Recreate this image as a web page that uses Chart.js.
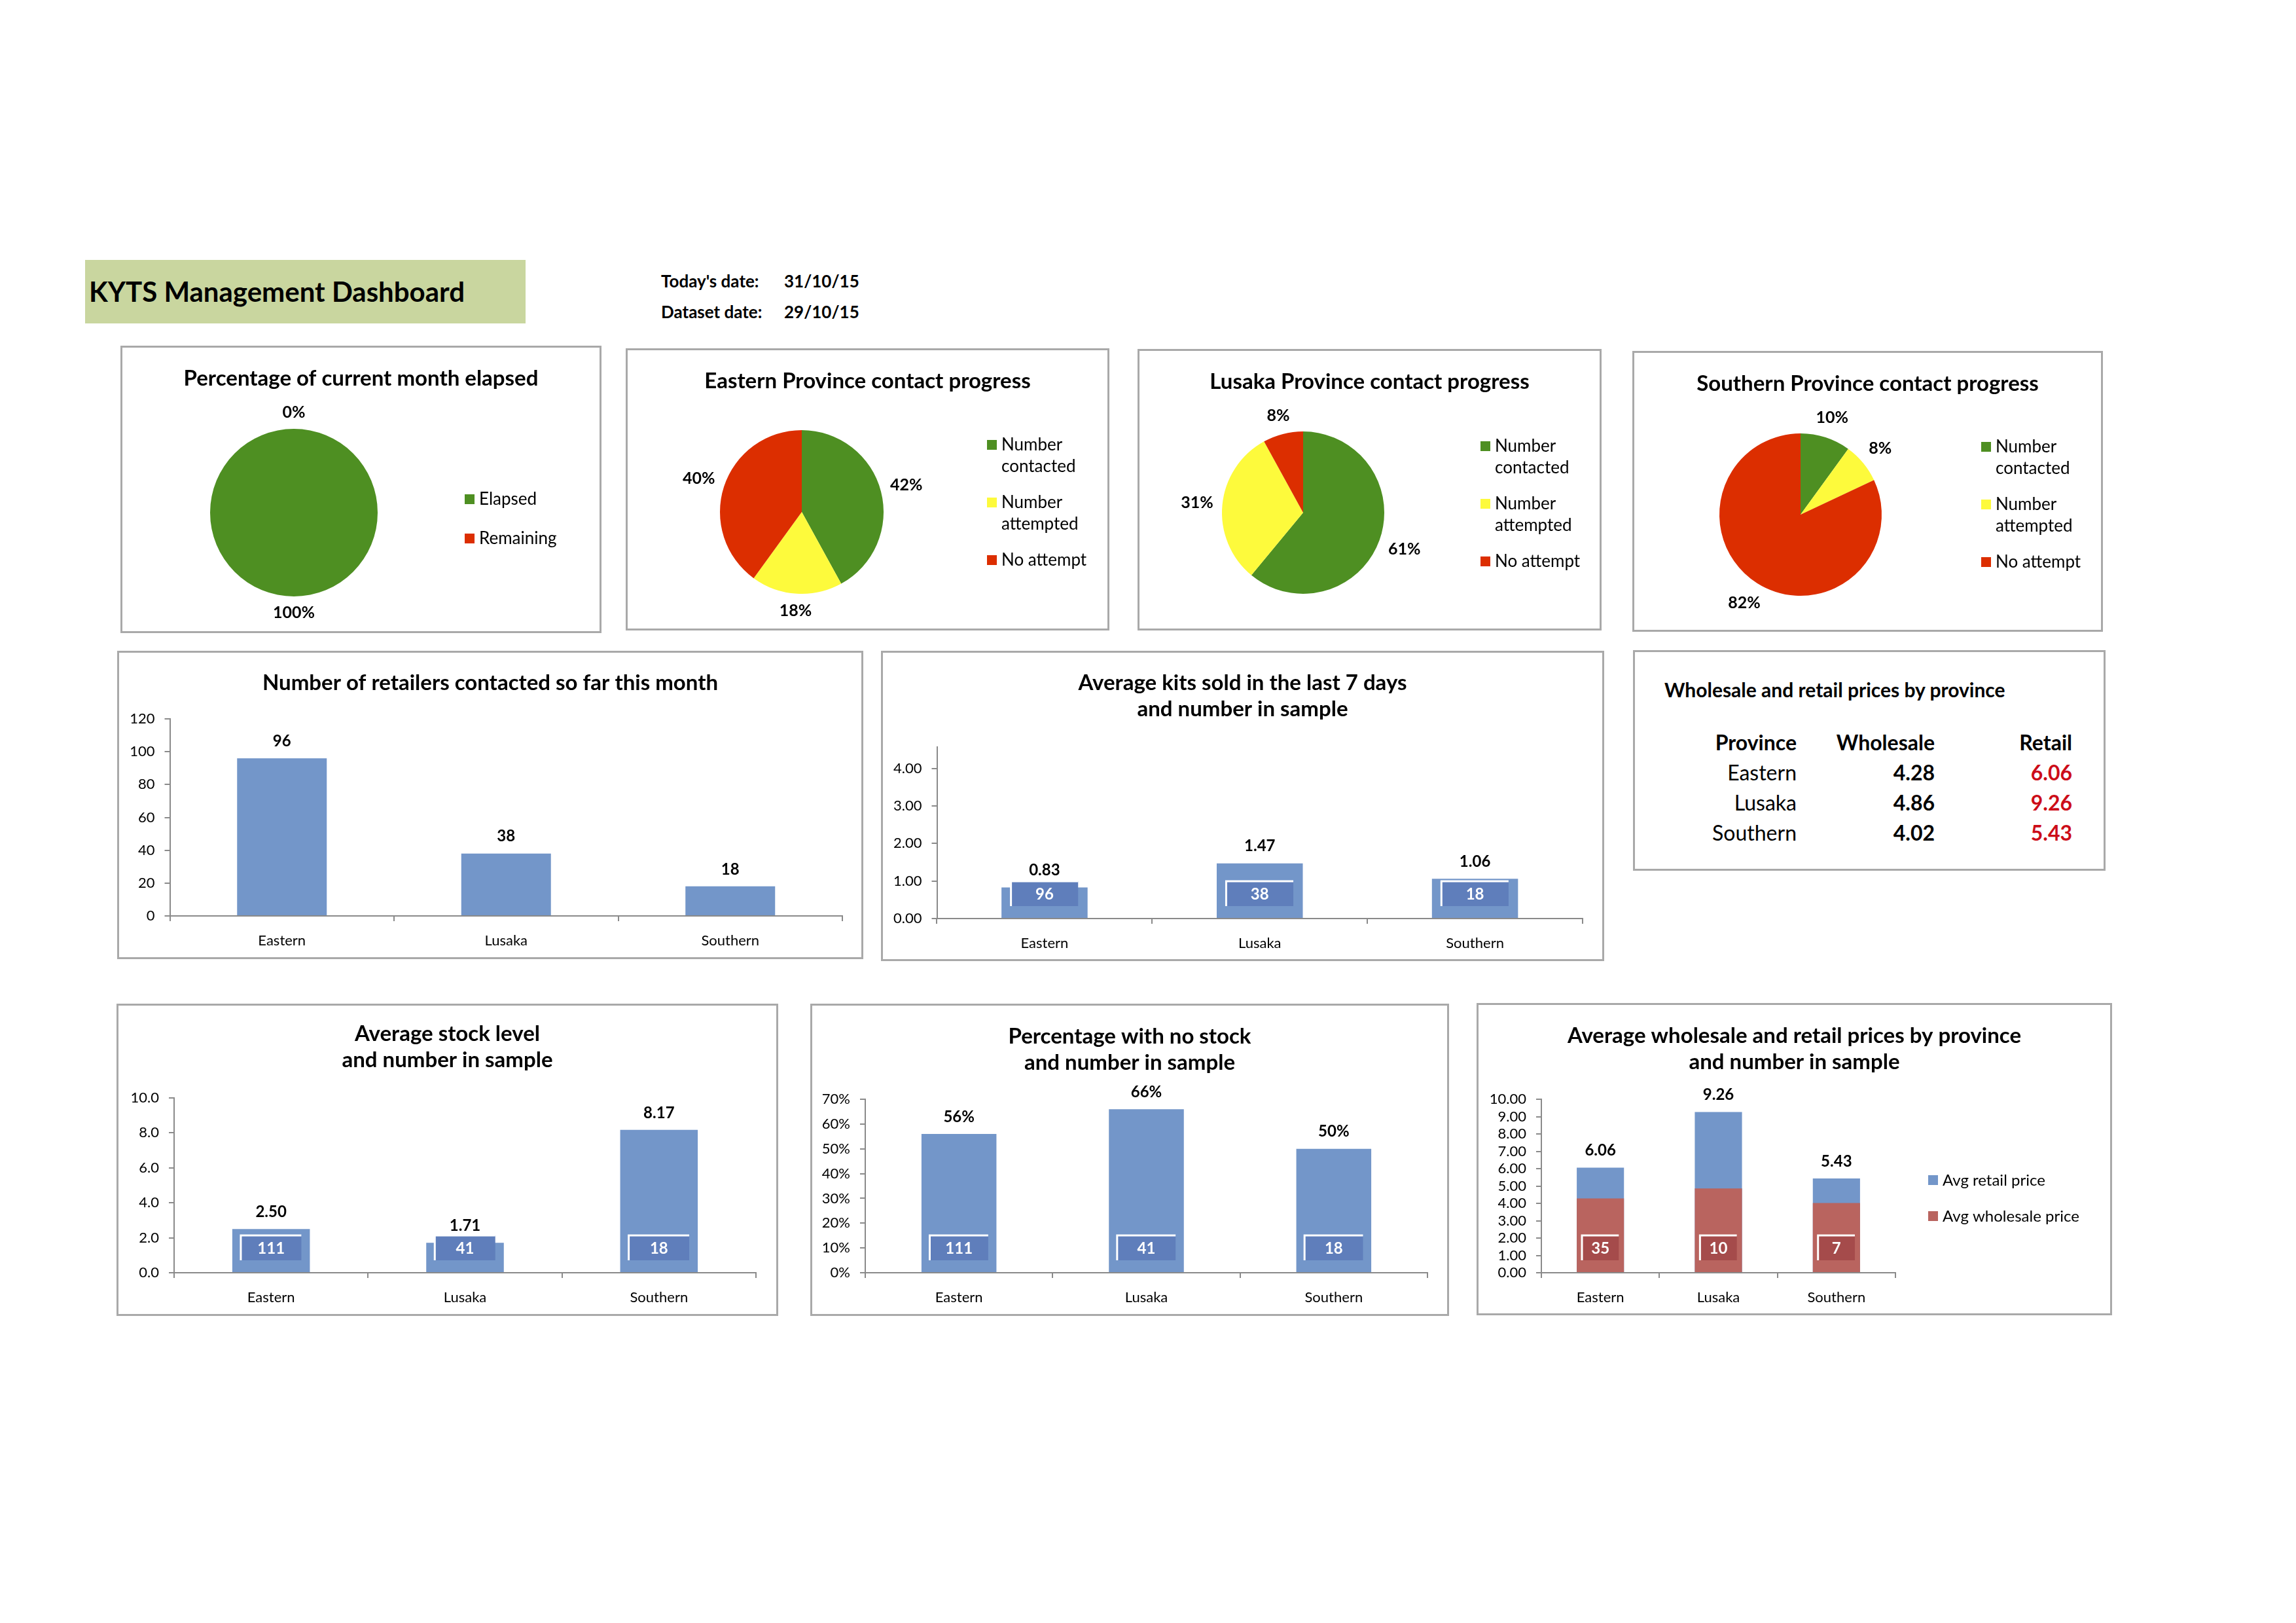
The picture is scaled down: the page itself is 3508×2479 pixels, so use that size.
<!DOCTYPE html>
<html>
<head>
<meta charset="utf-8">
<title>KYTS Management Dashboard</title>
<script src="https://cdn.jsdelivr.net/npm/chart.js@4.4.1/dist/chart.umd.min.js"></script>
<style>
    html, body { margin: 0; padding: 0; background: #fff; }
    body { width: 3508px; height: 2479px; position: relative; overflow: hidden;
        font-family: Lato, "Open Sans", sans-serif; color: #000; }
    .panel { position: absolute; box-sizing: border-box; border: 3px solid #a9a9a9; }
    canvas.chart { position: absolute; }
    .txt { position: absolute; white-space: nowrap; height: 40px; line-height: 40px; }
    #banner { position: absolute; left: 130px; top: 397px; width: 673px; height: 97px;
        background: #c9d69f; font-weight: bold; font-size: 42px; line-height: 97px;
        padding-left: 6px; box-sizing: border-box; }
</style>
</head>
<body>
<div id="banner">KYTS Management Dashboard</div>
<div class="txt" style="left:1010px;top:409px;font-size:26px;font-weight:bold;">Today's date:</div>
<div class="txt" style="left:1198px;top:409px;font-size:26px;font-weight:bold;">31/10/15</div>
<div class="txt" style="left:1010px;top:456px;font-size:26px;font-weight:bold;">Dataset date:</div>
<div class="txt" style="left:1198px;top:456px;font-size:26px;font-weight:bold;">29/10/15</div>

<script>
// dashboard data
const provinces = ["Eastern", "Lusaka", "Southern"];

const monthLabels = ["Elapsed", "Remaining"];
const monthShare = [100, 0];

const contactLabels = [["Number", "contacted"], ["Number", "attempted"], ["No attempt"]];
const easternContact = [42, 18, 40];
const lusakaContact = [61, 31, 8];
const southernContact = [10, 8, 82];

const retailersContacted = [96, 38, 18];

const kitsSold = [0.83, 1.47, 1.06];
const kitsSample = [96, 38, 18];

const stockLevel = [2.50, 1.71, 8.17];
const stockSample = [111, 41, 18];

const noStockPct = [56, 66, 50];
const noStockSample = [111, 41, 18];

const priceSeries = ["Avg retail price", "Avg wholesale price"];
const retailPrice = [6.06, 9.26, 5.43];
const wholesalePrice = [4.28, 4.86, 4.02];
const priceSample = [35, 10, 7];

const tableHeader = ["Province", "Wholesale", "Retail"];

(function () {
    "use strict";

    const FONT = "Lato, 'Open Sans', sans-serif";
    const GREEN = "#4e8f22";
    const YELLOW = "#fdfa3c";
    const RED = "#dc2e00";
    const BLUE = "#7396c9";
    const BLUE_BOX = "#5f7ebb";
    const BRICK = "#b9645f";
    const BRICK_BOX = "#a54b4b";
    const AXIS = "#8a8a8a";
    const PAD_L = 5;  // gap between frame and value-axis box
    const X_H = 60;   // fixed height of the category axis

    Chart.defaults.font.family = FONT;
    Chart.defaults.color = "#000";

    // ---- small drawing plugins ----
    const panelTitle = {
        id: "panelTitle",
        afterDraw(chart, args, opts) {
            if (!opts.lines) { return; }
            const ctx = chart.ctx;
            ctx.save();
            ctx.font = `bold 33px ${FONT}`;
            ctx.fillStyle = "#000";
            ctx.textAlign = "center";
            ctx.textBaseline = "middle";
            opts.lines.forEach((t, i) => ctx.fillText(t, chart.width / 2, opts.y + i * 40));
            ctx.restore();
        },
    };

    const sideLegend = {
        id: "sideLegend",
        afterDraw(chart, args, opts) {
            if (opts.x == null) { return; }
            const ctx = chart.ctx;
            const items = opts.mode === "datasets"
                ? chart.data.datasets.map(d => ({ text: d.label, color: d.backgroundColor }))
                : chart.data.labels.map((l, i) => ({ text: l, color: chart.data.datasets[0].backgroundColor[i] }));
            ctx.save();
            ctx.font = `${opts.size || 26}px ${FONT}`;
            ctx.textAlign = "left";
            ctx.textBaseline = "middle";
            let y = opts.y;
            items.forEach(it => {
                const lines = Array.isArray(it.text) ? it.text : [it.text];
                ctx.fillStyle = it.color;
                ctx.fillRect(opts.x, y - 8, 15, 15);
                ctx.fillStyle = "#000";
                lines.forEach((t, k) => ctx.fillText(t, opts.x + 22, y + k * 33));
                y += lines.length * 33 + opts.gap;
            });
            ctx.restore();
        },
    };

    // labels sit just outside the rim, box-fitted like Excel's outside-end labels
    const pieLabels = {
        id: "pieLabels",
        afterDatasetsDraw(chart) {
            const ctx = chart.ctx;
            const meta = chart.getDatasetMeta(0);
            const data = chart.data.datasets[0].data;
            ctx.save();
            ctx.font = `bold 25px ${FONT}`;
            ctx.fillStyle = "#000";
            ctx.textAlign = "center";
            ctx.textBaseline = "middle";
            meta.data.forEach((arc, i) => {
                const p = arc.getProps(["x", "y", "startAngle", "endAngle", "outerRadius"], true);
                const mid = (p.startAngle + p.endAngle) / 2;
                const text = `${data[i]}%`;
                const w = ctx.measureText(text).width, h = 24;
                const c = Math.cos(mid), s = Math.sin(mid);
                const d = p.outerRadius + 13 + Math.abs(c) * w / 2 + Math.abs(s) * h / 2;
                ctx.fillText(text, p.x + c * d, p.y + s * d);
            });
            ctx.restore();
        },
    };

    const barLabels = {
        id: "barLabels",
        afterDatasetsDraw(chart) {
            const ctx = chart.ctx;
            ctx.save();
            ctx.textAlign = "center";
            ctx.textBaseline = "middle";
            chart.data.datasets.forEach((ds, di) => {
                const meta = chart.getDatasetMeta(di);
                meta.data.forEach((bar, i) => {
                    const p = bar.getProps(["x", "y", "base", "width"], true);
                    if (ds.sample) {
                        const w = p.width * 0.78, h = 38, top = p.base - 56, left = p.x - w / 2;
                        ctx.fillStyle = ds.sampleFill;
                        ctx.fillRect(left, top, w, h);
                        ctx.strokeStyle = "#fff";
                        ctx.lineWidth = 3;
                        ctx.beginPath();
                        ctx.moveTo(left, top + h);
                        ctx.lineTo(left, top);
                        ctx.lineTo(left + w, top);
                        ctx.stroke();
                        ctx.font = `bold 24px ${FONT}`;
                        ctx.fillStyle = "#fff";
                        ctx.fillText(String(ds.sample[i]), p.x, top + h / 2 + 1);
                    }
                    if (ds.valueLabel) {
                        const v = ds.data[i];
                        const text = ds.valueLabel === "pct" ? `${v}%` : v.toFixed(ds.decimals || 0);
                        ctx.font = `bold 24px ${FONT}`;
                        ctx.fillStyle = "#000";
                        ctx.fillText(text, p.x, p.y - 26);
                    }
                });
            });
            ctx.restore();
        },
    };

    function makeCanvas(box) {
        const w = box.R - box.L, h = box.B - box.T;
        const frame = document.createElement("div");
        frame.className = "panel";
        Object.assign(frame.style, { left: `${box.L}px`, top: `${box.T}px`, width: `${w}px`, height: `${h}px` });
        document.body.appendChild(frame);
        const c = document.createElement("canvas");
        c.className = "chart";
        c.width = w; c.height = h;
        Object.assign(c.style, { left: `${box.L}px`, top: `${box.T}px`, width: `${w}px`, height: `${h}px` });
        document.body.appendChild(c);
        return c.getContext("2d");
    }

    function renderPie(box, pie, title, values, labels, colors, legend) {
        const ctx = makeCanvas(box);
        new Chart(ctx, {
            type: "pie",
            data: { labels, datasets: [{ data: values, backgroundColor: colors, borderWidth: 0 }] },
            options: {
                responsive: false, animation: false,
                layout: { padding: {
                    left: pie.cx - pie.r - box.L, right: box.R - pie.cx - pie.r,
                    top: pie.cy - pie.r - box.T, bottom: box.B - pie.cy - pie.r } },
                plugins: {
                    legend: { display: false }, tooltip: { enabled: false },
                    panelTitle: { lines: [title], y: pie.titleY },
                    sideLegend: legend,
                },
            },
            plugins: [panelTitle, sideLegend, pieLabels],
        });
    }

    function axisGrid(extra) {
        return Object.assign({ display: true, drawOnChartArea: false, drawTicks: true, tickLength: 8,
            color: AXIS, lineWidth: 2 }, extra);
    }

    function renderBars(box, plot, titleLines, titleY, datasets, y, legend) {
        const ctx = makeCanvas(box);
        const yWidth = plot.x0 - box.L - PAD_L;
        new Chart(ctx, {
            type: "bar",
            data: { labels: provinces, datasets },
            options: {
                responsive: false, animation: false,
                layout: { padding: {
                    left: PAD_L, right: box.R - plot.xR,
                    top: plot.yTop - box.T, bottom: box.B - plot.yBase - X_H } },
                datasets: { bar: { categoryPercentage: 0.8, barPercentage: 0.5 } },
                plugins: {
                    legend: { display: false }, tooltip: { enabled: false },
                    panelTitle: { lines: titleLines, y: titleY },
                    sideLegend: legend || {},
                },
                scales: {
                    x: {
                        grid: axisGrid({ offset: true }),
                        border: { display: true, color: AXIS, width: 2 },
                        ticks: { font: { size: 22 }, color: "#000", padding: 17 },
                        afterFit: s => { s.height = X_H; },
                    },
                    y: {
                        min: 0, max: y.max,
                        grid: axisGrid({}),
                        border: { display: true, color: AXIS, width: 2 },
                        ticks: { stepSize: y.step, autoSkip: false, font: { size: 22 }, color: "#000",
                            padding: 15, callback: y.format },
                        afterBuildTicks: s => {
                            s.ticks = s.ticks.filter(t => Math.abs(t.value / y.step - Math.round(t.value / y.step)) < 1e-6);
                        },
                        afterFit: s => { s.width = yWidth; },
                    },
                },
            },
            plugins: [panelTitle, sideLegend, barLabels],
        });
    }

    function renderTable(box, left, rightEdges, headY, rowGap) {
        const frame = document.createElement("div");
        frame.className = "panel";
        Object.assign(frame.style, { left: `${box.L}px`, top: `${box.T}px`,
            width: `${box.R - box.L}px`, height: `${box.B - box.T}px` });
        document.body.appendChild(frame);

        function put(text, x, yc, style, alignRight) {
            const d = document.createElement("div");
            d.className = "txt";
            d.textContent = text;
            d.style.top = `${yc - 20}px`;
            if (alignRight) { d.style.right = `${3508 - x}px`; } else { d.style.left = `${x}px`; }
            Object.assign(d.style, style);
            document.body.appendChild(d);
        }
        put("Wholesale and retail prices by province", left, 1053, { fontSize: "30px", fontWeight: "bold" });
        tableHeader.forEach((h, i) => put(h, rightEdges[i], headY, { fontSize: "32px", fontWeight: "bold" }, true));
        provinces.forEach((p, r) => {
            const yc = headY + (r + 1) * rowGap;
            put(p, rightEdges[0], yc, { fontSize: "32px" }, true);
            put(wholesalePrice[r].toFixed(2), rightEdges[1], yc, { fontSize: "32px", fontWeight: "bold" }, true);
            put(retailPrice[r].toFixed(2), rightEdges[2], yc, { fontSize: "32px", fontWeight: "bold", color: "#cc0c18" }, true);
        });
    }

    // ---- top row: pies ----
    const pieColors = [GREEN, YELLOW, RED];
    renderPie({ L: 184, T: 528, R: 919, B: 967 }, { cx: 449, cy: 783, r: 128, titleY: 50 },
        "Percentage of current month elapsed", monthShare, monthLabels, [GREEN, RED],
        { x: 526, y: 235, gap: 27 });
    renderPie({ L: 956, T: 532, R: 1695, B: 963 }, { cx: 1225, cy: 782, r: 125, titleY: 50 },
        "Eastern Province contact progress", easternContact, contactLabels, pieColors,
        { x: 552, y: 148, gap: 22 });
    renderPie({ L: 1738, T: 533, R: 2447, B: 963 }, { cx: 1991, cy: 783, r: 124, titleY: 50 },
        "Lusaka Province contact progress", lusakaContact, contactLabels, pieColors,
        { x: 524, y: 149, gap: 22 });
    renderPie({ L: 2494, T: 536, R: 3213, B: 965 }, { cx: 2751, cy: 786, r: 124, titleY: 50 },
        "Southern Province contact progress", southernContact, contactLabels, pieColors,
        { x: 533, y: 147, gap: 22 });

    // ---- middle row ----
    renderBars({ L: 179, T: 994, R: 1319, B: 1465 }, { x0: 259.5, xR: 1287, yTop: 1098, yBase: 1399 },
        ["Number of retailers contacted so far this month"], 49,
        [{ label: "Retailers", data: retailersContacted, backgroundColor: BLUE, valueLabel: "num", decimals: 0 }],
        { max: 120, step: 20, format: v => String(v) });

    renderBars({ L: 1346, T: 994, R: 2451, B: 1468 }, { x0: 1431.5, xR: 2418, yTop: 1141, yBase: 1403 },
        ["Average kits sold in the last 7 days", "and number in sample"], 49,
        [{ label: "Kits", data: kitsSold, backgroundColor: BLUE, valueLabel: "num", decimals: 2,
            sample: kitsSample, sampleFill: BLUE_BOX }],
        { max: 4.57, step: 1, format: v => v.toFixed(2) });

    renderTable({ L: 2495, T: 993, R: 3217, B: 1330 }, 2543, [2745, 2956, 3166], 1134, 46);

    // ---- bottom row ----
    renderBars({ L: 178, T: 1533, R: 1189, B: 2010 }, { x0: 266, xR: 1155, yTop: 1677, yBase: 1944 },
        ["Average stock level", "and number in sample"], 46,
        [{ label: "Stock", data: stockLevel, backgroundColor: BLUE, valueLabel: "num", decimals: 2,
            sample: stockSample, sampleFill: BLUE_BOX }],
        { max: 10, step: 2, format: v => v.toFixed(1) });

    renderBars({ L: 1238, T: 1533, R: 2214, B: 2010 }, { x0: 1322, xR: 2181, yTop: 1679, yBase: 1944 },
        ["Percentage with no stock", "and number in sample"], 50,
        [{ label: "No stock", data: noStockPct, backgroundColor: BLUE, valueLabel: "pct",
            sample: noStockSample, sampleFill: BLUE_BOX }],
        { max: 70, step: 10, format: v => `${v}%` });

    renderBars({ L: 2256, T: 1532, R: 3227, B: 2009 }, { x0: 2355, xR: 2896, yTop: 1679, yBase: 1944 },
        ["Average wholesale and retail prices by province", "and number in sample"], 50,
        [
            { label: priceSeries[0], data: retailPrice, backgroundColor: BLUE, grouped: false, order: 1,
                valueLabel: "num", decimals: 2 },
            { label: priceSeries[1], data: wholesalePrice, backgroundColor: BRICK, grouped: false, order: 0,
                sample: priceSample, sampleFill: BRICK_BOX },
        ],
        { max: 10, step: 1, format: v => v.toFixed(2) },
        { mode: "datasets", x: 690, y: 271, gap: 22, size: 24 });
})();
</script>
</body>
</html>
